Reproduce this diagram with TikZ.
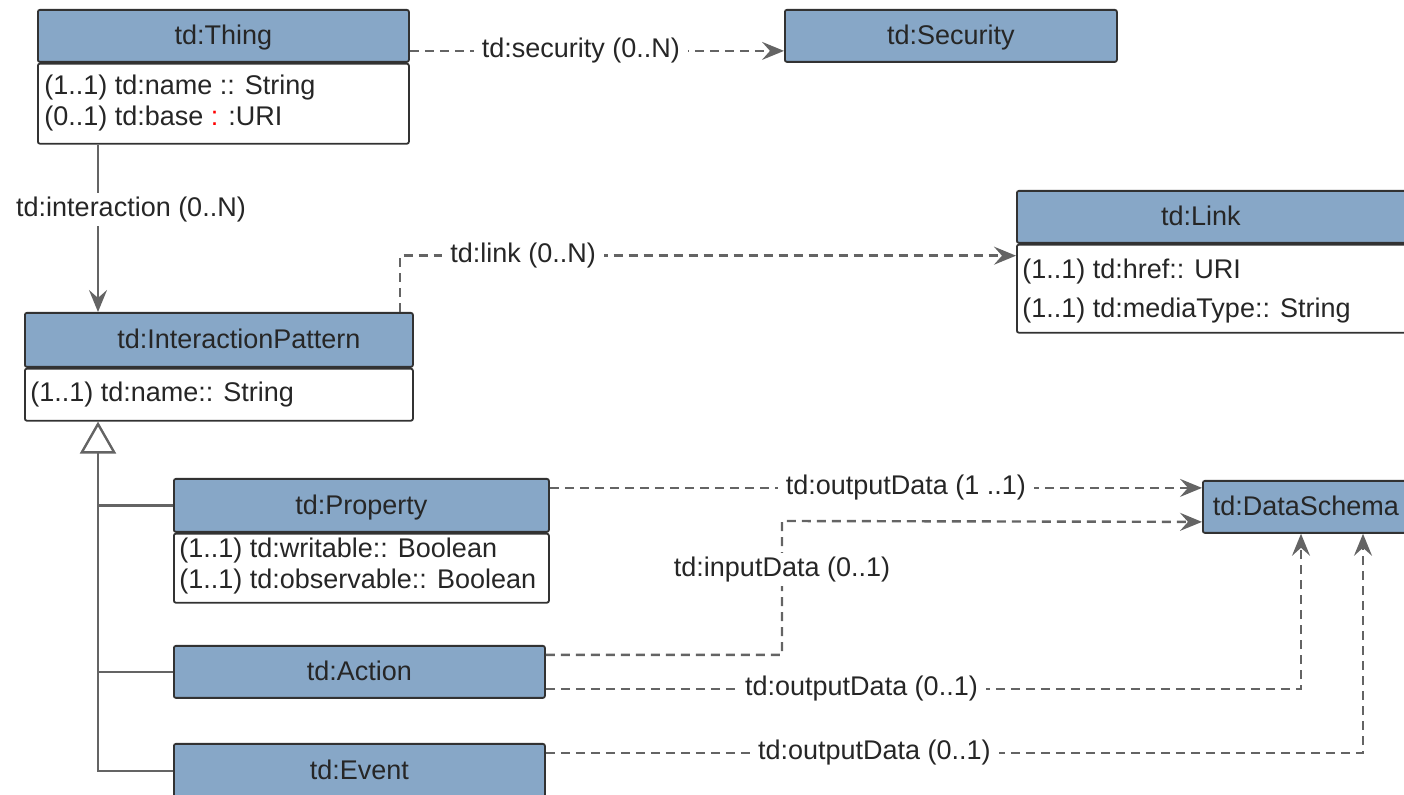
\documentclass[tikz,border=0pt]{standalone}
\usepackage{fontspec}
\setmainfont{Liberation Sans}
\usepackage{xcolor}
\usetikzlibrary{arrows.meta,positioning,calc}

\definecolor{hdrblue}{RGB}{135,167,199}
\definecolor{linegray}{RGB}{100,100,100}
\definecolor{boxborder}{RGB}{50,50,50}

\begin{document}
\begin{tikzpicture}[
  x=0.5pt, y=-0.5pt,
  every node/.style={font=\fontsize{13.5}{15.5}\selectfont, text=black!85},
  head/.style={draw=boxborder, fill=hdrblue, line width=0.9pt, rounded corners=1pt,
               anchor=north west, minimum height=26pt, inner sep=0pt,
               text height=10.5pt, text depth=1.5pt},
  body/.style={draw=boxborder, fill=white, line width=0.9pt, rounded corners=1pt,
               anchor=north west, inner sep=0pt},
  attr/.style={anchor=west, align=left, inner sep=0pt},
  dep/.style={-{Stealth[length=11pt, width=9pt, inset=4pt]}, dash pattern=on 4.5pt off 3pt,
              line width=1.2pt, draw=linegray},
  assoc/.style={-{Stealth[length=11pt, width=9pt, inset=4pt]}, line width=1.2pt, draw=linegray},
  gen/.style={-{Triangle[open, length=16pt, width=18pt]}, line width=1.2pt, draw=linegray},
  tree/.style={line width=1.2pt, draw=linegray},
  lbl/.style={fill=white, inner xsep=4pt, inner ysep=2pt}
]
\path[use as bounding box, clip] (0,0) rectangle (1404,795);

% Top: Thing and Security
\node[head, minimum width=185.5pt] (thing) at (37,9) {td:Thing};
\node[body, minimum width=185.5pt, minimum height=40pt] (thingbody) at (thing.south west) {};
\node[attr] (thingattr) at (44,103.5) {(1..1) td:name :: String\\(0..1) td:base {\color{red}:} :URI};
\node[head, minimum width=166pt] (sec) at (784,9) {td:Security};

% Middle: InteractionPattern and Link
\node[head, minimum width=194pt, minimum height=27pt] (ipat) at (24,312) {\hspace*{20pt}td:InteractionPattern};
\node[body, minimum width=194pt, minimum height=26pt] (ipatbody) at (ipat.south west) {};
\node[attr] (ipatattr) at (30,395) {(1..1) td:name:: String};
\node[head, minimum width=195pt] (link) at (1016,190) {td:Link\hspace*{11pt}};
\node[body, minimum width=195pt, minimum height=44pt] (linkbody) at (link.south west) {};
\node[attr] (linkattr) at (1022,291.5) {(1..1) td:href:: URI\\[4pt](1..1) td:mediaType:: String};

% Bottom: interaction kinds and DataSchema
\node[head, minimum width=187.5pt, minimum height=26.5pt] (prop) at (173,478) {td:Property};
\node[body, minimum width=187.5pt, minimum height=34.5pt] (propbody) at (prop.south west) {};
\node[attr] (propattr) at (179,566.5) {(1..1) td:writable:: Boolean\\(1..1) td:observable:: Boolean};
\node[head, minimum width=185.5pt] (act) at (173,645) {td:Action};
\node[head, minimum width=185.5pt, minimum height=27pt] (evt) at (173,743) {td:Event};
\node[head, inner xsep=5pt] (ds) at (1202,480) {td:DataSchema};

% Anchor points
\coordinate (trunk) at ([xshift=37pt]ipatbody.south west);
\coordinate (lk1) at ([yshift=16.5pt]linkbody.west);
\coordinate (p1) at ([yshift=8.75pt]prop.east);
\coordinate (a1) at ([yshift=8.5pt]act.east);
\coordinate (a2) at ([yshift=-7.5pt]ds.west);
\coordinate (inbend) at (782,521);
\coordinate (a3) at ([yshift=-8.5pt]act.east);
\coordinate (e1) at ([yshift=9pt]evt.east);
\coordinate (d1) at ([xshift=49.5pt]ds.south west);
\coordinate (d2) at ([xshift=80.5pt]ds.south west);

% Arrows
\draw[dep] ([yshift=-7.5pt]thing.east) -- node[lbl, pos=0.457] {td:security (0..N)} ([yshift=-7.5pt]sec.west);
\draw[assoc] ([xshift=30.5pt]thingbody.south west) -- node[lbl, pos=0.39, xshift=16.5pt] {td:interaction (0..N)} ([xshift=37pt]ipat.north west);
\draw[dep] ([xshift=-7pt]ipat.north east) |- node[lbl, pos=0.6] {td:link (0..N)} (lk1);
\draw[gen] (evt.west) -| (trunk);
\draw[tree] (prop.west) -- (prop.west -| trunk);
\draw[tree] (act.west) -- (act.west -| trunk);
\draw[dep] (p1) -- node[lbl, pos=0.546] {td:outputData (1 ..1)} (p1 -| ds.west);
\draw[dep] (a1) -| node[lbl, pos=0.82] {td:inputData (0..1)} (inbend) -- (a2);
\draw[dep] (a3) -| node[lbl, pos=0.209] {td:outputData (0..1)} (d1);
\draw[dep] (e1) -| node[lbl, pos=0.201] {td:outputData (0..1)} (d2);
\end{tikzpicture}
\end{document}
